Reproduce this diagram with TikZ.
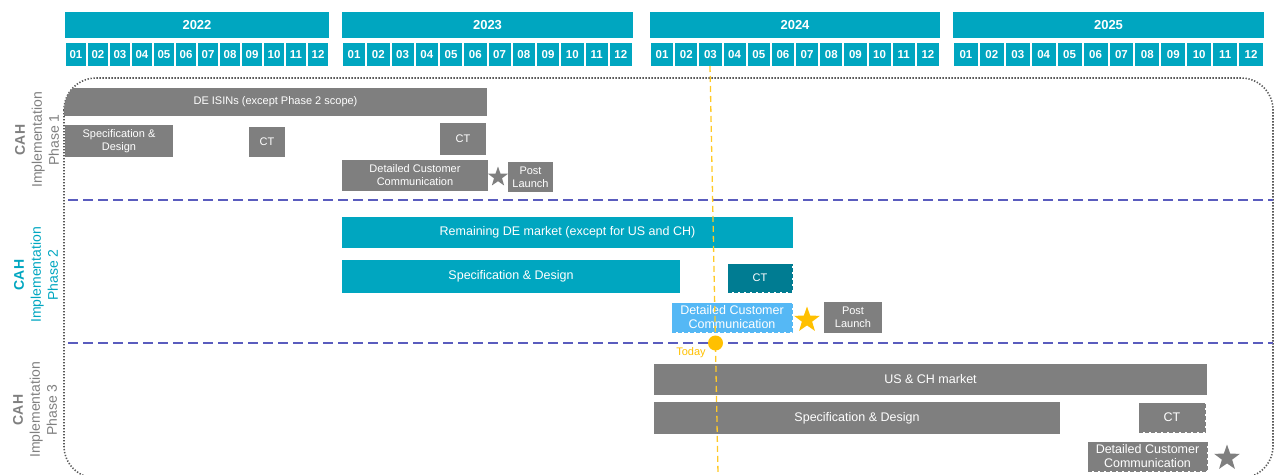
\documentclass[tikz,border=0pt]{standalone}
\usepackage{fontspec}
\setmainfont{Liberation Sans}
\usetikzlibrary{shapes.geometric}
\definecolor{cahteal}{HTML}{00A6C0}
\definecolor{cahdark}{HTML}{007C92}
\definecolor{cahsky}{HTML}{55B8F5}
\definecolor{cahgray}{HTML}{7F7F7F}
\definecolor{cahgold}{HTML}{FFC000}
\definecolor{cahline}{HTML}{5A5CBE}
\tikzset{
	yearbox/.style={fill=cahteal, text=white, inner sep=0pt, minimum height=26pt,
			font=\fontsize{13}{15}\selectfont\bfseries},
	monthbox/.style={fill=cahteal, text=white, inner sep=0pt, minimum height=23pt,
			font=\fontsize{11.5}{13}\selectfont\bfseries},
	taskbar/.style={fill=cahgray, text=white, inner sep=0pt, align=center,
			font=\fontsize{12.5}{14}\selectfont},
	small/.style={font=\fontsize{11}{13}\selectfont},
	planned/.style={draw=#1, dash pattern=on 4pt off 2pt, line width=1pt},
	phaselabel/.style={rotate=90, align=center, text=cahgray,
			font=\fontsize{14}{17}\selectfont},
	milestone/.style={star, star points=5, star point ratio=2.5, fill=#1, inner sep=0pt}
}

\begin{document}
\begin{tikzpicture}[x=1pt, y=-1pt]

			\useasboundingbox (0,0) rectangle (1277,474);

			% Draw the years and months
			\foreach \yr/\xs/\xw in {2022/65/264, 2023/342/291, 2024/650/290, 2025/953/311} {
					\node[yearbox, minimum width=\xw] (y\yr) at ({\xs+\xw/2},25) {\yr};
					\foreach \m in {1,...,12} {
							\node[monthbox, minimum width={\xw/12-2}] (m\yr-\m)
								at ({\xs+(\m-0.5)*\xw/12},54.5) {\ifnum\m<10 0\fi\m};
						}
				}

			% Draw the dotted frame
			\draw[black!65, line width=1.6pt, dash pattern=on 1.3pt off 1.7pt,
				rounded corners=32pt] (64,78) rectangle (1273,478);

			% Draw the phase labels
			\node[phaselabel] (ph1) at (37,140) {\textbf{CAH}\\Implementation\\Phase 1};
			\node[phaselabel, text=cahteal] (ph2) at (36,275) {\textbf{CAH}\\Implementation\\Phase 2};
			\node[phaselabel] (ph3) at (35,410) {\textbf{CAH}\\Implementation\\Phase 3};

			% Draw the phase separators
			\coordinate (sep1l) at (68,200);
			\coordinate (sep1r) at (1273,200);
			\coordinate (sep2l) at (68,343);
			\coordinate (sep2r) at (1273,343);
			\draw[cahline, line width=1.5pt, dash pattern=on 10pt off 5pt] (sep1l) -- (sep1r);
			\draw[cahline, line width=1.5pt, dash pattern=on 10pt off 5pt] (sep2l) -- (sep2r);

			\begin{scope}
				\clip[rounded corners=32pt] (64,78) rectangle (1273,478);

				% Phase 1
				\node[taskbar, small, minimum width=423, minimum height=28] (isin) at (275.5,102)
				{DE ISINs (except Phase 2 scope)};
				\node[taskbar, small, minimum width=108, minimum height=32] (spec1) at (119,141)
				{Specification \&\\Design};
				\node[taskbar, small, minimum width=36, minimum height=30] (ct1a) at (267,142) {CT};
				\node[taskbar, small, minimum width=46, minimum height=32] (ct1b) at (463,139) {CT};
				\node[taskbar, small, minimum width=146, minimum height=31] (dcc1) at (415,175.5)
				{Detailed Customer\\Communication};
				\node[milestone=cahgray, minimum size=21pt] (star1) at (498,177) {};
				\node[taskbar, small, minimum width=45, minimum height=30] (post1) at (530.5,177)
				{Post\\Launch};

				% Phase 2
				\node[taskbar, fill=cahteal, minimum width=451, minimum height=31] (rem) at (567.5,232.5)
				{Remaining DE market (except for US and CH)};
				\node[taskbar, fill=cahteal, minimum width=338, minimum height=33] (spec2) at (511,276.5)
				{Specification \& Design};
				\node[taskbar, small, fill=cahdark, planned=cahdark, minimum width=64, minimum height=28]
				(ct2) at (760,278) {CT};
				\node[taskbar, fill=cahsky, planned=cahsky, minimum width=120, minimum height=29]
				(dcc2) at (732,317.5) {Detailed Customer\\Communication};
				\node[milestone=cahgold, minimum size=27pt] (star2) at (807,320) {};
				\node[taskbar, small, minimum width=58, minimum height=31] (post2) at (853,317.5)
				{Post\\Launch};

				% Phase 3
				\node[taskbar, minimum width=553, minimum height=31] (usch) at (930.5,379.5)
				{US \& CH market};
				\node[taskbar, minimum width=406, minimum height=32] (spec3) at (857,418)
				{Specification \& Design};
				\node[taskbar, planned=cahgray, minimum width=66, minimum height=29] (ct3) at (1172,417.5)
				{CT};
				\node[taskbar, planned=cahgray, minimum width=119, minimum height=29] (dcc3)
				at (1147.5,456.5) {Detailed Customer\\Communication};
				\node[milestone=cahgray, minimum size=27pt] (star3) at (1227,458) {};
			\end{scope}

			% Draw the today marker
			\coordinate (todaytop) at (710,66);
			\coordinate (todaybot) at (718,474);
			\draw[cahgold!85!white, line width=1.3pt, dash pattern=on 6pt off 4pt] (todaytop) -- (todaybot);
			\node[circle, fill=cahgold, minimum size=15pt, inner sep=0pt] (today) at (715.5,343) {};
			\node[small, text=cahgold] (todaylbl) at (691,353) {Today};

		\end{tikzpicture}
\end{document}
